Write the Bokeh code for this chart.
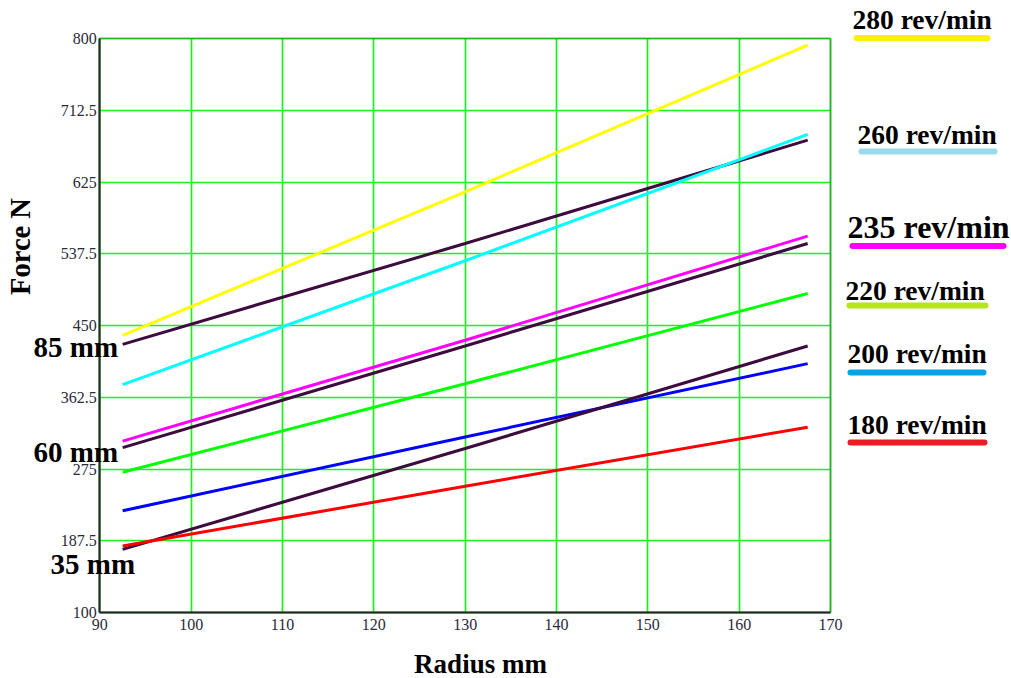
from bokeh.plotting import figure
from bokeh.models import Label, BoxAnnotation, FixedTicker, Range1d, LinearAxis, Grid
from bokeh.embed import file_html
from bokeh.resources import INLINE

# ---- data ----
radius = [92.5, 130, 167.5]
rpm280 = [438, 613, 792]
rpm260 = [378, 529, 683]
rpm235 = [309, 432, 559]
rpm220 = [271, 379, 489]
rpm200 = [224, 314, 403.5]
rpm180 = [181, 254, 326]
d85 = [427, 550, 676]
d60 = [301, 425, 550]
d35 = [177, 300, 425]

x_ticks = [90, 100, 110, 120, 130, 140, 150, 160, 170]
y_ticks = [100, 187.5, 275, 362.5, 450, 537.5, 625, 712.5, 800]
y_tick_labels = ["100", "187.5", "275", "362.5", "450", "537.5", "625", "712.5", "800"]

legend_labels = ["280 rev/min", "260 rev/min", "235 rev/min", "220 rev/min", "200 rev/min", "180 rev/min"]
legend_colors = ["#FFF200", "#99D9EA", "#FF00FF", "#B5E61D", "#00A2E8", "#ED1C24"]
side_labels = ["85 mm", "60 mm", "35 mm"]

# ---- layout: plot area in canvas pixels ----
W, H = 1011, 678
PX0, PX1, PY0, PY1 = 99.3, 830.0, 38.0, 612.0   # left, right, top, bottom of plot box
X0, X1, Y0, Y1 = 90, 170, 100, 800
sx = (PX1 - PX0) / (X1 - X0)
sy = (PY1 - PY0) / (Y1 - Y0)
xr = Range1d(X0 - PX0 / sx, X0 - PX0 / sx + W / sx)
yr = Range1d(Y1 + PY0 / sy - H / sy, Y1 + PY0 / sy)
BASE_FIX = 9  # rendered baseline offset correction

def dx(px):
    return X0 + (px - PX0) / sx
def dy(py):
    return Y1 - (py - PY0) / sy
def dyb(py):
    return dy(py - BASE_FIX)

p = figure(width=W, height=H, output_backend="svg", toolbar_location=None,
           x_range=xr, y_range=yr, x_axis_type=None, y_axis_type=None,
           min_border=0, min_border_left=0, min_border_right=0,
           min_border_top=0, min_border_bottom=0)
p.background_fill_color = "white"
p.border_fill_color = "white"
p.outline_line_color = None

# grid limited to plot box
p.add_layout(Grid(dimension=0, ticker=FixedTicker(ticks=x_ticks), bounds=(X0, X1),
                  cross_bounds=(Y0, Y1), grid_line_color="#1EF01E", grid_line_width=1.7))
p.add_layout(Grid(dimension=1, ticker=FixedTicker(ticks=y_ticks), bounds=(Y0, Y1),
                  cross_bounds=(X0, X1), grid_line_color="#1EF01E", grid_line_width=1.7))

serif = "Liberation Serif"
xa = LinearAxis(ticker=FixedTicker(ticks=x_ticks), fixed_location=Y0, bounds=(X0, X1))
ya = LinearAxis(ticker=FixedTicker(ticks=y_ticks), fixed_location=X0, bounds=(Y0, Y1),
                major_label_overrides={t: s for t, s in zip(y_ticks, y_tick_labels)})
for ax in (xa, ya):
    ax.axis_line_color = "#222222"
    ax.axis_line_width = 2
    ax.major_tick_out = 0
    ax.major_tick_in = 0
    ax.minor_tick_out = 0
    ax.minor_tick_in = 0
    ax.major_label_text_font = serif
    ax.major_label_text_font_size = "16px"
    ax.major_label_text_color = "#2a2a3a"
ya.major_label_standoff = 3
xa.major_label_standoff = 6
p.add_layout(xa, "below")
p.add_layout(ya, "left")

p.add_layout(BoxAnnotation(left=X0, right=X1, bottom=Y0, top=Y1, fill_alpha=0,
                           line_color="#333333", line_width=2))

series = [(rpm280, "#FFFF00"), (d85, "#3D0B3D"), (rpm260, "#00FFFF"), (rpm235, "#FF00FF"),
          (d60, "#3D0B3D"), (rpm220, "#00FF00"), (rpm200, "#0000FF"), (d35, "#3D0B3D"),
          (rpm180, "#FF0000")]
for ys, c in series:
    p.line(radius, ys, line_color=c, line_width=3)

p.add_layout(Label(x=dx(20), y=dy(246), text="Force N", angle=1.5708, text_align="center",
                   text_baseline="middle", text_font=serif, text_font_style="bold",
                   text_font_size="28.5px", text_color="black"))
p.add_layout(Label(x=dx(480), y=dyb(672), text="Radius mm", text_align="center",
                   text_baseline="alphabetic", text_font=serif, text_font_style="bold",
                   text_font_size="27px", text_color="black"))

side_pos = [(33, 355), (33, 460), (50, 572)]
for txt, (px, py) in zip(side_labels, side_pos):
    p.add_layout(Label(x=dx(px), y=dyb(py), text=txt, text_align="left",
                       text_baseline="alphabetic", text_font=serif, text_font_style="bold",
                       text_font_size="29px", text_color="black"))

leg_pos = [(852, 28, 37.5, 853, 990, 27.5), (857, 143, 151, 858, 997, 27.5),
           (847, 235, 245.5, 849, 1006, 32), (845, 299, 305, 846, 988, 27.5),
           (847, 362, 372, 847, 986, 27.5), (847, 433, 442, 847, 987, 27.5)]
for txt, col, (tx, ty, uy, ux0, ux1, fs) in zip(legend_labels, legend_colors, leg_pos):
    p.add_layout(BoxAnnotation(left=dx(ux0), right=dx(ux1), top=dy(uy - 3), bottom=dy(uy + 3),
                               fill_color=col, fill_alpha=1, line_color=None, border_radius=3))
    p.add_layout(Label(x=dx(tx), y=dyb(ty), text=txt, text_align="left",
                       text_baseline="alphabetic", text_font=serif, text_font_style="bold",
                       text_font_size=f"{fs}px", text_color="black"))

open("out.html", "w").write(file_html(p, INLINE))
